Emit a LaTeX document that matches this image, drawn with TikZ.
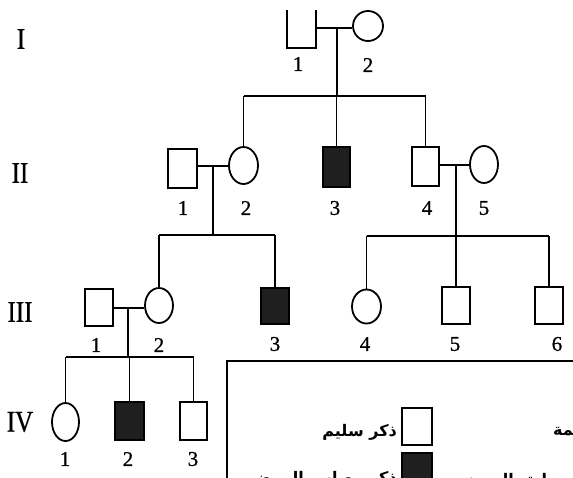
\documentclass[tikz,border=0pt]{standalone}
\usepackage{fontspec}
\setmainfont{Liberation Serif}
\newfontfamily\numfont[FakeBold=0.8]{Liberation Serif}
\newfontfamily\arabicfont[Script=Arabic]{DejaVu Sans}
\TeXXeTstate=1
\usetikzlibrary{shapes.geometric}
\newcommand\GenLab[1]{\scalebox{1}[1.2]{#1}}
\begin{document}
\begin{tikzpicture}[x=1pt,y=-1pt,
  sq/.style={draw, line width=1.8pt, rectangle, minimum width=28pt, minimum height=37pt, inner sep=0pt},
  aff/.style={sq, fill=black!88},
  fem/.style={draw, ellipse, line width=1.8pt, minimum width=28pt, minimum height=36pt, inner sep=0pt},
  ln/.style={line width=1.7pt},
  hl/.style={line width=2.5pt},
  num/.style={font=\numfont\fontsize{21}{21}\selectfont, inner sep=0pt},
  gen/.style={font=\numfont\fontsize{25}{25}\selectfont, inner sep=0pt},
  ar/.style={font=\arabicfont\bfseries\fontsize{16}{16}\selectfont, inner sep=0pt}]
\useasboundingbox (0,0) rectangle (573,477);
\clip (0,0) rectangle (573,477);
\fill[white] (0,0) rectangle (573,477);

% generation labels
\node[gen] (gI) at (21,39) {\GenLab{I}};
\node[gen] (gII) at (20,173) {\GenLab{II}};
\node[gen] (gIII) at (20,312) {\GenLab{III}};
\node[gen] (gIV) at (20,422) {\GenLab{IV}};

% generation I
\node[sq, draw=none, minimum width=27pt, minimum height=36pt] (i1) at (301.5,29) {};
\draw[line width=1.8pt] (i1.north west) -- (i1.south west) -- (i1.south east) -- (i1.north east);
\node[fem, minimum width=30pt, minimum height=30pt] (i2) at (368,26) {};
\node[num] (ni1) at (298,64) {1};
\node[num] (ni2) at (368,65) {2};

% generation II
\node[sq, minimum width=29pt, minimum height=39pt] (ii1) at (182.5,168.5) {};
\node[fem, minimum width=29pt, minimum height=37pt] (ii2) at (243.5,165.5) {};
\node[aff, minimum width=27pt, minimum height=40pt] (ii3) at (336.5,167) {};
\node[sq, minimum width=27pt, minimum height=39pt] (ii4) at (425.5,166.5) {};
\node[fem, minimum width=28pt, minimum height=37pt] (ii5) at (484,164.5) {};
\node[num] (nii1) at (183,208) {1};
\node[num] (nii2) at (246,208) {2};
\node[num] (nii3) at (335,208) {3};
\node[num] (nii4) at (427,208) {4};
\node[num] (nii5) at (484,208) {5};

% generation III
\node[sq, minimum height=37pt] (iii1) at (99,307.5) {};
\node[fem, minimum height=35pt] (iii2) at (159,305.5) {};
\node[aff, minimum height=36pt] (iii3) at (275,306) {};
\node[fem, minimum width=29pt, minimum height=34pt] (iii4) at (366.5,306.5) {};
\node[sq] (iii5) at (456,305.5) {};
\node[sq] (iii6) at (549,305.5) {};
\node[num] (niii1) at (96,345) {1};
\node[num] (niii2) at (159,345) {2};
\node[num] (niii3) at (275,344) {3};
\node[num] (niii4) at (365,344) {4};
\node[num] (niii5) at (455,344) {5};
\node[num] (niii6) at (557,344) {6};

% generation IV
\node[fem, minimum width=27pt, minimum height=38pt] (iv1) at (65.5,422) {};
\node[aff, minimum width=29pt, minimum height=38pt] (iv2) at (129.5,421) {};
\node[sq, minimum width=27pt, minimum height=38pt] (iv3) at (193.5,421) {};
\node[num] (niv1) at (65,459) {1};
\node[num] (niv2) at (128,459) {2};
\node[num] (niv3) at (193,459) {3};

% family I
\coordinate (m1) at (337,28);
\coordinate (s1) at (337,96);
\draw[hl] (i1.east |- m1) -- (i2.west |- m1);
\draw[ln] (m1) -- (s1);
\draw[hl] (ii2.north |- s1) -- (ii4.north |- s1);
\draw[ln] (ii2.north |- s1) -- (ii2.north);
\draw[ln] (ii3.north |- s1) -- (ii3.north);
\draw[ln] (ii4.north |- s1) -- (ii4.north);

% family II left
\coordinate (m2) at (213,166);
\coordinate (s2) at (213,235);
\draw[hl] (ii1.east |- m2) -- (ii2.west |- m2);
\draw[ln] (m2) -- (s2);
\draw[hl] (iii2.north |- s2) -- (iii3.north |- s2);
\draw[ln] (iii2.north |- s2) -- (iii2.north);
\draw[ln] (iii3.north |- s2) -- (iii3.north);

% family II right
\coordinate (m3) at (456,165);
\coordinate (s3) at (456,236);
\draw[hl] (ii4.east |- m3) -- (ii5.west |- m3);
\draw[ln] (m3) -- (s3);
\draw[hl] (iii4.north |- s3) -- (iii6.north |- s3);
\draw[ln] (iii4.north |- s3) -- (iii4.north);
\draw[ln] (iii5.north |- s3) -- (iii5.north);
\draw[ln] (iii6.north |- s3) -- (iii6.north);

% family III
\coordinate (m4) at (128,308);
\coordinate (s4) at (128,357);
\draw[hl] (iii1.east |- m4) -- (iii2.west |- m4);
\draw[ln] (m4) -- (s4);
\draw[hl] (iv1.north |- s4) -- (iv3.north |- s4);
\draw[ln] (iv1.north |- s4) -- (iv1.north);
\draw[ln] (iv2.north |- s4) -- (iv2.north);
\draw[ln] (iv3.north |- s4) -- (iv3.north);

% legend
\draw[line width=2.2pt] (227,485) -- (227,361) -- (580,361);
\node[sq, minimum width=30pt, minimum height=37pt] (l1) at (417,426.5) {};
\node[aff, minimum width=30pt, minimum height=37pt] (l2) at (417,471.5) {};
\node[ar, anchor=east] (t1) at (397,432) {\beginR ذكر سليم\endR};
\node[ar, anchor=west] (t2) at (553,429) {\beginR أنثى سليمة\endR};
\node[ar, anchor=east] (t3) at (397,479) {\beginR ذكر مصاب بالمرض\endR};
\node[ar, anchor=west] (t4) at (460,479) {\beginR أنثى مصابة بالمرض\endR};
\end{tikzpicture}
\end{document}
